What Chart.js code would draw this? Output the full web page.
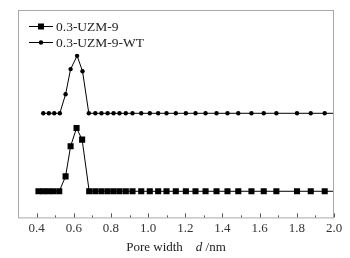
<!DOCTYPE html>
<html>
<head>
<meta charset="utf-8">
<script src="https://cdn.jsdelivr.net/npm/chart.js@4.4.0/dist/chart.umd.min.js"></script>
<style>
  html, body { margin: 0; padding: 0; background: #fff; }
  #wrap { width: 350px; height: 258px; }
</style>
</head>
<body>
<div id="wrap"><canvas id="myChart"></canvas></div>
<script>
// pore size distribution, two curves offset vertically

var labels = ['0.3-UZM-9', '0.3-UZM-9-WT'];

var widthUzm = [0.41, 0.436, 0.463, 0.49, 0.522, 0.556, 0.583, 0.615, 0.645, 0.683,
  0.716, 0.749, 0.782, 0.814, 0.846, 0.88, 0.916, 0.963, 1.009, 1.054, 1.099, 1.149,
  1.203, 1.255, 1.309, 1.368, 1.427, 1.485, 1.556, 1.622, 1.69, 1.801, 1.875, 1.95, 2.0];
var valUzm = [0.126, 0.126, 0.126, 0.126, 0.126, 0.198, 0.343, 0.431, 0.375, 0.126,
  0.126, 0.126, 0.126, 0.126, 0.126, 0.126, 0.126, 0.126, 0.126, 0.126, 0.126, 0.126,
  0.126, 0.126, 0.126, 0.126, 0.126, 0.126, 0.126, 0.126, 0.126, 0.126, 0.126, 0.126, 0.126];

var widthWt = [0.436, 0.466, 0.495, 0.525, 0.556, 0.583, 0.618, 0.647, 0.681,
  0.716, 0.749, 0.782, 0.814, 0.846, 0.88, 0.916, 0.963, 1.009, 1.054, 1.099, 1.149,
  1.203, 1.255, 1.309, 1.368, 1.427, 1.485, 1.556, 1.622, 1.69, 1.801, 1.875, 1.95, 2.0];
var valWt = [0.502, 0.502, 0.502, 0.502, 0.594, 0.715, 0.779, 0.705, 0.502,
  0.502, 0.502, 0.502, 0.502, 0.502, 0.502, 0.502, 0.502, 0.502, 0.502, 0.502, 0.502,
  0.502, 0.502, 0.502, 0.502, 0.502, 0.502, 0.502, 0.502, 0.502, 0.502, 0.502, 0.502, 0.502];

var xTicks = [0.4, 0.6, 0.8, 1.0, 1.2, 1.4, 1.6, 1.8, 2.0];

var serif = '"Liberation Serif", "Times New Roman", serif';

function pts(xs, ys) {
  return xs.map(function (x, i) { return { x: x, y: ys[i] }; });
}
// last point only carries the line to the frame, no marker
function radii(xs, r) {
  return xs.map(function (x, i) { return i == xs.length - 1 ? 0 : r; });
}

var boxPlugin = {
  id: 'box',
  afterDraw: function (chart) {
    var c = chart.ctx, a = chart.chartArea, xs = chart.scales.x;
    c.save();
    c.strokeStyle = '#a8a8a8';
    c.lineWidth = 1;
    c.strokeRect(a.left + 0.5, a.top + 0.5, a.right - a.left - 1, a.bottom - a.top);
    // inward ticks, minor ones between
    c.strokeStyle = '#555';
    for (var v = 0.4; v <= 2.001; v += 0.1) {
      var px = Math.round(xs.getPixelForValue(v)) + 0.5;
      var major = Math.round(v * 10) % 2 == 0;
      c.beginPath();
      c.moveTo(px, a.bottom);
      c.lineTo(px, a.bottom - (major ? 4 : 2));
      c.stroke();
    }
    // legend inside the plot
    chart.data.datasets.forEach(function (ds, i) {
      var y = a.top + 16 + i * 16;
      c.strokeStyle = '#000';
      c.beginPath();
      c.moveTo(29, y + 0.5);
      c.lineTo(53, y + 0.5);
      c.stroke();
      c.fillStyle = '#000';
      if (ds.pointStyle == 'rect') {
        c.fillRect(38, y - 2.5, 6, 6);
      } else {
        c.beginPath();
        c.arc(41, y + 0.5, 2.2, 0, Math.PI * 2);
        c.fill();
      }
      c.fillStyle = '#222';
      c.font = '13.5px ' + serif;
      c.textBaseline = 'middle';
      c.textAlign = 'left';
      c.fillText(ds.label, 56, y + 1);
    });
    // axis title with italic d
    var t1 = 'Pore width    ', t2 = 'd', t3 = ' /nm';
    c.font = '13px ' + serif;
    var w1 = c.measureText(t1).width, w3 = c.measureText(t3).width;
    c.font = 'italic 13px ' + serif;
    var w2 = c.measureText(t2).width;
    var x0 = (a.left + a.right) / 2 - (w1 + w2 + w3) / 2;
    var ty = 248;
    c.fillStyle = '#222';
    c.textBaseline = 'middle';
    c.font = '13px ' + serif;
    c.fillText(t1, x0, ty);
    c.font = 'italic 13px ' + serif;
    c.fillText(t2, x0 + w1, ty);
    c.font = '13px ' + serif;
    c.fillText(t3, x0 + w1 + w2, ty);
    c.restore();
  }
};

var ctx = document.getElementById('myChart');

var myChart = new Chart(ctx, {
  type: 'line',
  data: {
    datasets: [{
      label: labels[0],
      data: pts(widthUzm, valUzm),
      borderColor: '#000',
      backgroundColor: '#000',
      borderWidth: 1,
      pointStyle: 'rect',
      pointRadius: radii(widthUzm, 4.3),
      pointBorderWidth: 0,
      tension: 0
    }, {
      label: labels[1],
      data: pts(widthWt, valWt),
      borderColor: '#000',
      backgroundColor: '#000',
      borderWidth: 1,
      pointStyle: 'circle',
      pointRadius: radii(widthWt, 2.2),
      pointBorderWidth: 0,
      tension: 0
    }]
  },
  options: {
    responsive: true,
    maintainAspectRatio: false,
    animation: false,
    layout: { padding: { left: 18, right: 16, top: 10, bottom: 19 } },
    plugins: {
      legend: { display: false },
      tooltip: { enabled: false }
    },
    scales: {
      x: {
        type: 'linear',
        min: 0.3,
        max: 2.0,
        afterBuildTicks: function (axis) {
          axis.ticks = xTicks.map(function (v) { return { value: v }; });
        },
        grid: { display: false, drawTicks: false },
        border: { display: false },
        ticks: {
          padding: 3,
          color: '#333',
          font: { family: serif, size: 13 },
          maxRotation: 0,
          autoSkip: false,
          callback: function (v) { return v.toFixed(1); }
        }
      },
      y: {
        display: false,
        min: 0,
        max: 1
      }
    }
  },
  plugins: [boxPlugin]
});
</script>
</body>
</html>
